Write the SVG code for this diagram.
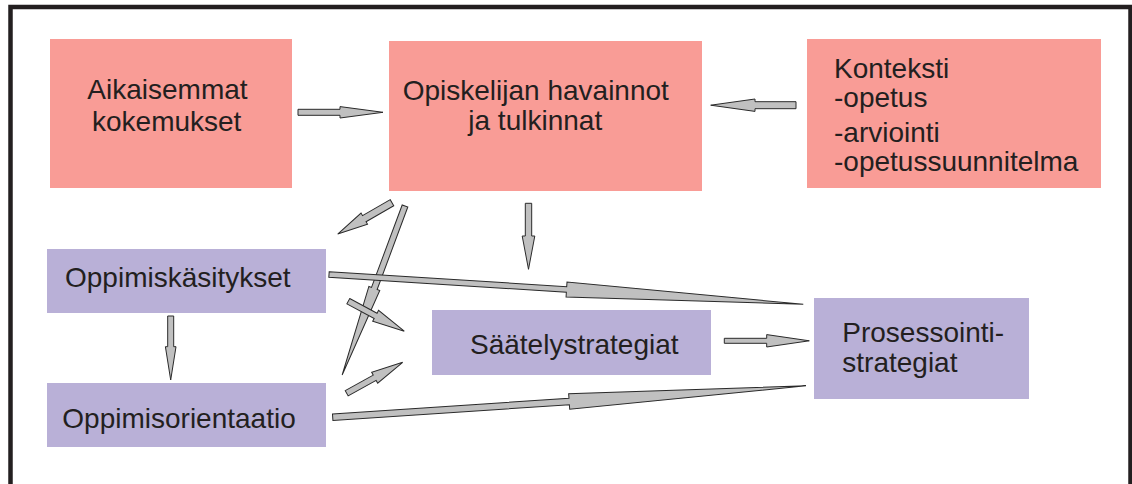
<svg xmlns="http://www.w3.org/2000/svg" width="1132" height="484" viewBox="0 0 1132 484">
<style>
.pink{fill:#F99C96}
.purple{fill:#B9B0D7}
.t{font-family:"Liberation Sans",Arial,sans-serif;font-size:28px;fill:#231F20}
.arr{fill:#C0C0C0;stroke:#2a2a2a;stroke-width:1;stroke-linejoin:miter}
</style>
<rect x="0" y="0" width="1132" height="484" fill="#fff"/>
<rect x="10.5" y="7" width="1120" height="520" fill="none" stroke="#231F20" stroke-width="4.5"/>
<g id="aikaisemmat">
<rect class="pink" x="50" y="39" width="242" height="149"/>
<text class="t" x="87.3" y="99">Aikaisemmat</text>
<text class="t" x="92" y="131">kokemukset</text>
</g>
<g id="opiskelijan">
<rect class="pink" x="389" y="41" width="313" height="150"/>
<text class="t" x="402.7" y="100">Opiskelijan havainnot</text>
<text class="t" x="468.3" y="130">ja tulkinnat</text>
</g>
<g id="konteksti">
<rect class="pink" x="807" y="39" width="294" height="149"/>
<text class="t" x="834" y="78">Konteksti</text>
<text class="t" x="834" y="107">-opetus</text>
<text class="t" x="834" y="141.5">-arviointi</text>
<text class="t" x="834" y="171">-opetussuunnitelma</text>
</g>
<g id="oppimiskasitykset">
<rect class="purple" x="47" y="249" width="279" height="64"/>
<text class="t" x="65" y="286.7">Oppimiskäsitykset</text>
</g>
<g id="oppimisorientaatio">
<rect class="purple" x="47" y="383" width="279" height="64"/>
<text class="t" x="62.3" y="428.3">Oppimisorientaatio</text>
</g>
<g id="saatelystrategiat">
<rect class="purple" x="432" y="310" width="279" height="65"/>
<text class="t" x="470" y="354.3">Säätelystrategiat</text>
</g>
<g id="prosessointi">
<rect class="purple" x="814" y="298" width="215" height="101"/>
<text class="t" x="842.3" y="341.7">Prosessointi-</text>
<text class="t" x="842.3" y="371.7">strategiat</text>
</g>
<g id="connectors">
<polygon class="arr" transform="translate(298,112.3)" points="0,-3 42,-3 42,-5.7 85,0 42,5.7 42,3 0,3"/>
<polygon class="arr" transform="translate(796,105.2) rotate(180)" points="0,-3.5 41,-3.5 41,-6.2 85.3,0 41,6.2 41,3.5 0,3.5"/>
<polygon class="arr" transform="translate(528.5,203.3) rotate(90)" points="0,-3.2 32.7,-3.2 32.7,-6.3 66,0 32.7,6.3 32.7,3.2 0,3.2"/>
<polygon class="arr" transform="translate(392,202.7) rotate(150)" points="0,-3.5 32,-3.5 32,-6.5 62.7,0 32,6.5 32,3.5 0,3.5"/>
<polygon class="arr" transform="translate(405,206) rotate(110.4)" points="0,-3 88,-3 88,-5.8 180.3,0 88,5.8 88,3 0,3"/>
<polygon class="arr" transform="translate(329,274.5) rotate(3.6)" points="0,-2.8 238,-2.8 238,-7.5 475.2,0 238,7.5 238,2.8 0,2.8"/>
<polygon class="arr" transform="translate(348.3,301.2) rotate(28.2)" points="0,-3 31,-3 31,-6.2 63.5,0 31,6.2 31,3 0,3"/>
<polygon class="arr" transform="translate(346.7,393.3) rotate(-29)" points="0,-3 32,-3 32,-6.2 64,0 32,6.2 32,3 0,3"/>
<polygon class="arr" transform="translate(332.7,417.2) rotate(-3.8)" points="0,-3.2 237,-3.2 237,-7.8 474.3,0 237,7.8 237,3.2 0,3.2"/>
<polygon class="arr" transform="translate(724.3,340.8) rotate(0)" points="0,-2.5 42.4,-2.5 42.4,-6.2 85,0 42.4,6.2 42.4,2.5 0,2.5"/>
<polygon class="arr" transform="translate(170.7,316) rotate(90)" points="0,-3 30.7,-3 30.7,-5.3 64,0 30.7,5.3 30.7,3 0,3"/>
</g>
</svg>
